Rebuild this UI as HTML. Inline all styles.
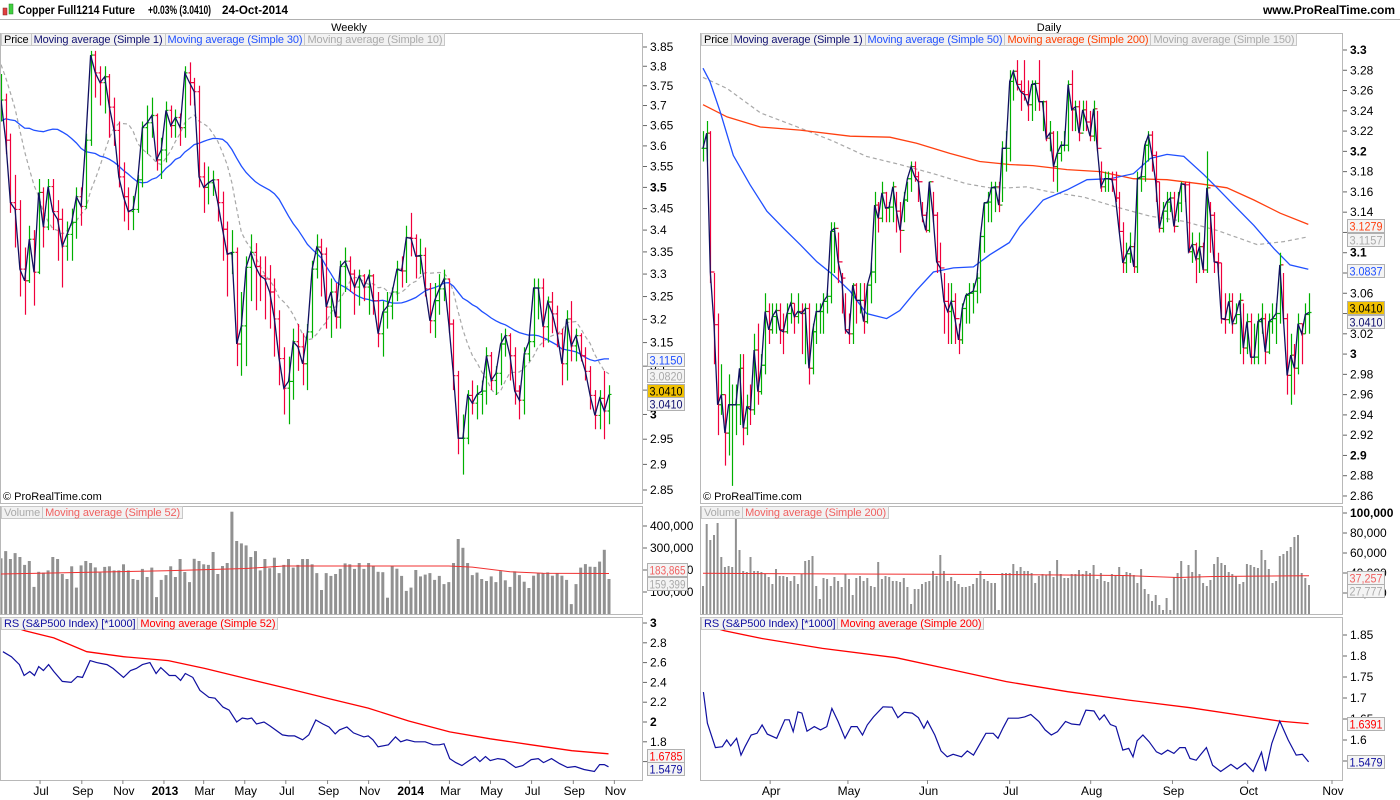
<!DOCTYPE html>
<html><head><meta charset="utf-8"><style>
html,body{margin:0;padding:0;background:#fff;}
#wrap{position:relative;width:1400px;height:800px;overflow:hidden;font-family:"Liberation Sans",Arial,sans-serif;}
svg{position:absolute;left:0;top:0;}
.leg{position:absolute;height:13px;font-size:11px;line-height:13px;white-space:nowrap;display:flex;letter-spacing:-0.1px;}
.leg span{background:#f2f2f2;border:1px solid #c8c8c8;padding:0 2px;margin-right:-1px;}
</style></head><body>
<div id="wrap">
<svg id="svg" width="1400" height="800" xmlns="http://www.w3.org/2000/svg"></svg>
<div class="leg" style="left:1px;top:33px"><span style="color:#000">Price</span><span style="color:#101070">Moving average (Simple 1)</span><span style="color:#2050ff">Moving average (Simple 30)</span><span style="color:#aaa">Moving average (Simple 10)</span></div>
<div class="leg" style="left:1px;top:506px"><span style="color:#aaa">Volume</span><span style="color:#f06060">Moving average (Simple 52)</span></div>
<div class="leg" style="left:1px;top:617px"><span style="color:#1010a0">RS (S&amp;P500 Index) [*1000]</span><span style="color:#f00">Moving average (Simple 52)</span></div>
<div class="leg" style="left:701px;top:33px"><span style="color:#000">Price</span><span style="color:#101070">Moving average (Simple 1)</span><span style="color:#2050ff">Moving average (Simple 50)</span><span style="color:#ff4000">Moving average (Simple 200)</span><span style="color:#aaa">Moving average (Simple 150)</span></div>
<div class="leg" style="left:701px;top:506px"><span style="color:#aaa">Volume</span><span style="color:#f06060">Moving average (Simple 200)</span></div>
<div class="leg" style="left:701px;top:617px"><span style="color:#1010a0">RS (S&amp;P500 Index) [*1000]</span><span style="color:#f00">Moving average (Simple 200)</span></div>
</div>
<script>
// ===== Weekly data =====
const wPrior=[3.25,3.45,3.55,3.5,3.6,3.55,3.4,3.45,3.55,3.45,3.4,3.35,3.45,3.55,3.6,3.7,3.8,3.85,3.85,3.9,3.85,3.95,3.85,3.85,3.85,3.8,3.8,3.7,3.75,3.78];
const wClose=[3.714,3.614,3.464,3.448,3.311,3.285,3.379,3.304,3.488,3.407,
3.502,3.443,3.425,3.363,3.390,3.418,3.478,3.455,3.614,3.829,
3.783,3.758,3.773,3.696,3.638,3.525,3.478,3.443,3.448,3.518,
3.645,3.657,3.675,3.566,3.590,3.688,3.650,3.670,3.645,3.783,
3.758,3.735,3.525,3.500,3.511,3.518,3.464,3.402,3.345,3.349,
3.147,3.186,3.315,3.349,3.317,3.296,3.289,3.260,3.201,3.116,
3.054,3.068,3.152,3.141,3.105,3.173,3.311,3.361,
3.345,3.227,3.260,3.205,3.317,3.329,3.300,3.271,3.296,3.271,
3.296,3.241,3.169,3.216,3.229,3.260,3.311,3.307,3.383,3.381,
3.340,3.342,3.267,3.197,3.241,3.267,3.289,3.190,3.080,2.952,
2.952,3.039,3.023,3.041,3.048,3.122,3.070,3.085,3.147,3.165,
3.122,3.048,3.029,3.126,3.152,3.269,3.269,3.184,3.238,3.212,
3.169,3.105,3.201,3.143,3.165,3.122,3.089,3.039,2.998,3.033,
3.007,3.041];
const wHigh=[3.78,3.73,3.63,3.53,3.47,3.36,3.41,3.40,3.52,3.50,
3.52,3.52,3.47,3.45,3.42,3.45,3.50,3.50,3.63,3.84,
3.84,3.80,3.80,3.78,3.72,3.66,3.56,3.50,3.48,3.53,
3.66,3.70,3.72,3.68,3.62,3.71,3.70,3.69,3.68,3.80,
3.81,3.77,3.75,3.56,3.55,3.54,3.52,3.49,3.42,3.40,
3.36,3.26,3.34,3.39,3.37,3.34,3.34,3.32,3.29,3.22,
3.14,3.12,3.18,3.19,3.17,3.19,3.33,3.39,
3.38,3.36,3.29,3.28,3.33,3.36,3.34,3.31,3.31,3.30,
3.31,3.30,3.26,3.24,3.26,3.27,3.33,3.34,3.41,3.44,
3.39,3.38,3.36,3.28,3.28,3.30,3.31,3.29,3.20,3.09,
3.00,3.05,3.07,3.06,3.07,3.14,3.13,3.10,3.17,3.18,
3.17,3.14,3.06,3.14,3.17,3.29,3.29,3.29,3.25,3.26,
3.23,3.18,3.22,3.24,3.18,3.17,3.14,3.10,3.05,3.05,
3.09,3.06];
const wLow=[3.66,3.58,3.44,3.36,3.25,3.21,3.28,3.23,3.30,3.36,
3.40,3.40,3.33,3.27,3.33,3.33,3.38,3.41,3.45,3.60,
3.72,3.70,3.68,3.62,3.60,3.50,3.42,3.40,3.40,3.44,
3.50,3.58,3.62,3.54,3.52,3.56,3.62,3.62,3.60,3.62,
3.70,3.70,3.50,3.44,3.46,3.48,3.42,3.33,3.25,3.30,
3.10,3.08,3.10,3.24,3.22,3.24,3.20,3.18,3.12,3.06,
3.00,2.98,3.03,3.09,3.06,3.05,3.16,3.29,
3.25,3.18,3.16,3.18,3.18,3.26,3.26,3.21,3.23,3.24,
3.21,3.21,3.14,3.12,3.18,3.20,3.24,3.27,3.28,3.34,
3.29,3.30,3.25,3.17,3.16,3.21,3.24,3.17,3.05,2.92,
2.88,2.94,3.00,2.99,3.00,3.02,3.05,3.04,3.06,3.12,
3.07,3.02,2.99,3.00,3.11,3.14,3.20,3.14,3.15,3.17,
3.14,3.06,3.07,3.11,3.11,3.11,3.07,3.01,2.97,2.97,
2.95,2.98];
const wVol=[253,286,250,277,259,223,241,123,192,188,
198,259,250,182,159,217,120,221,241,232,
212,188,214,217,198,198,226,198,159,155,
205,168,211,77,155,177,217,168,250,191,
145,251,241,226,223,282,182,218,232,465,
332,321,312,259,286,198,250,208,256,186,
223,250,211,223,250,250,226,186,109,186,
173,182,205,230,226,205,232,205,232,220,
192,190,74,218,206,173,105,120,200,171,179,
186,155,173,136,145,232,341,301,232,177,
188,159,150,171,145,195,153,123,194,177,
147,118,174,186,186,189,174,186,174,155,
45,136,211,227,215,214,238,292,159];
const wVolMaIdx=[0,35,52,60,95,100,108,115,129];
const wVolMaVal=[182,197,207,218,218,213,192,185,184];
const wRsIdx=[0.4,2.2,3.9,4.9,6.1,7.1,8.0,9.0,10.1,11.2,13.0,14.9,16.2,17.3,18.9,20.3,22.5,23.8,26.0,27.5,28.7,30.0,31.6,32.9,33.9,35.7,37.0,38.1,39.1,40.7,42.2,44.1,45.4,47.1,48.4,50.0,51.2,52.3,53.2,54.2,55.8,57.1,59.7,61.0,62.3,64.0,65.3,66.8,68.3,69.6,70.9,71.8,73.4,74.8,77.0,77.9,78.9,80.0,82.2,83.7,84.8,86.1,87.8,90.0,91.7,93.0,94.0,95.2,96.5,97.8,99.3,100.6,101.6,102.8,103.8,105.4,106.8,109.2,110.7,112.5,114.0,115.1,116.8,118.5,120.2,121.8,123.7,125.9,127.0,128.0,128.9];
const wRsVal=[2.71,2.66,2.58,2.47,2.51,2.47,2.56,2.52,2.58,2.51,2.41,2.40,2.46,2.45,2.62,2.60,2.58,2.54,2.45,2.52,2.54,2.58,2.60,2.49,2.55,2.47,2.47,2.42,2.49,2.45,2.32,2.25,2.24,2.15,2.12,2.00,2.04,2.03,2.04,1.98,2.00,1.96,1.87,1.86,1.86,1.82,1.87,2.02,1.98,1.95,1.88,1.92,1.95,1.89,1.85,1.86,1.82,1.75,1.77,1.85,1.80,1.82,1.80,1.80,1.77,1.77,1.78,1.63,1.59,1.56,1.61,1.65,1.60,1.65,1.61,1.63,1.62,1.54,1.56,1.62,1.63,1.59,1.63,1.58,1.54,1.55,1.52,1.50,1.57,1.57,1.5479];
const wRsMaIdx=[0,5.2,11.2,18.2,26.0,35.5,43.3,51.9,60.6,69.2,77.9,86.5,95.2,103.8,112.5,121.1,128.9];
const wRsMaVal=[3.0,2.92,2.85,2.71,2.66,2.62,2.54,2.44,2.34,2.24,2.14,2.01,1.90,1.83,1.77,1.71,1.6785];
const wPriceTicks=[2.85,2.9,2.95,3,3.05,3.1,3.15,3.2,3.25,3.3,3.35,3.4,3.45,3.5,3.55,3.6,3.65,3.7,3.75,3.8,3.85];
const wVolTicks=[100,200,300,400];
const wRsTicks=[1.6,1.8,2,2.2,2.4,2.6,2.8,3];
const wXLabels=['Jul','Sep','Nov','2013','Mar','May','Jul','Sep','Nov','2014','Mar','May','Jul','Sep','Nov'];
const wXDates=['2012-07-01','2012-09-01','2012-11-01','2013-01-01','2013-03-01','2013-05-01','2013-07-01','2013-09-01','2013-11-01','2014-01-01','2014-03-01','2014-05-01','2014-07-01','2014-09-01','2014-11-01'];

// ===== Daily data =====
const dClose=[3.203,3.218,3.081,3.029,2.950,2.960,2.922,2.950,2.950,2.950,
2.986,2.927,2.948,2.945,3.004,2.963,2.989,3.042,3.024,3.037,
3.043,3.024,3.022,3.040,3.050,3.037,3.042,3.040,3.045,2.986,
3.022,3.042,3.042,3.052,3.057,3.121,3.124,3.091,3.075,3.024,
3.020,3.068,3.053,3.053,3.032,3.068,3.081,3.147,3.134,3.159,
3.144,3.145,3.165,3.141,3.122,3.152,3.173,3.185,3.175,3.170,
3.137,3.122,3.170,3.137,3.091,3.085,3.052,3.042,3.052,3.035,
3.014,3.045,3.058,3.060,3.062,3.075,3.116,3.149,3.150,3.164,
3.165,3.147,3.203,3.203,3.269,
3.279,3.266,3.259,3.256,3.246,3.266,3.267,3.249,3.249,3.213,
3.218,3.185,3.198,3.206,3.206,3.266,3.241,3.244,3.218,3.241,
3.229,3.215,3.242,3.203,3.165,3.173,3.173,3.172,3.154,3.121,
3.090,3.099,3.106,3.086,3.173,3.175,3.206,3.216,3.196,3.170,
3.124,3.141,3.150,3.154,3.126,3.149,3.168,3.167,3.101,3.108,
3.094,3.106,3.083,3.164,3.137,3.091,3.090,3.035,3.034,3.052,
3.030,3.039,3.053,3.006,3.032,2.997,2.997,3.032,3.035,3.002,
3.032,3.035,3.040,3.088,3.035,2.979,2.999,2.986,3.030,3.020,
3.039,3.041];
const dHigh=[3.22,3.23,3.22,3.08,3.04,2.99,2.96,2.98,2.97,2.97,
3.00,3.00,2.96,2.97,3.02,3.03,3.00,3.06,3.05,3.05,
3.05,3.05,3.04,3.05,3.06,3.05,3.06,3.05,3.05,3.05,
3.03,3.05,3.05,3.06,3.06,3.13,3.13,3.12,3.08,3.06,
3.04,3.07,3.07,3.07,3.07,3.07,3.09,3.16,3.15,3.17,
3.16,3.15,3.17,3.16,3.15,3.16,3.17,3.19,3.19,3.18,
3.15,3.14,3.17,3.16,3.14,3.11,3.08,3.07,3.07,3.06,
3.03,3.05,3.06,3.07,3.07,3.08,3.12,3.15,3.16,3.17,
3.17,3.17,3.21,3.22,3.28,
3.28,3.29,3.27,3.29,3.27,3.27,3.27,3.29,3.25,3.25,
3.23,3.22,3.22,3.21,3.22,3.27,3.28,3.25,3.25,3.25,
3.25,3.24,3.25,3.24,3.19,3.18,3.18,3.18,3.18,3.16,
3.13,3.11,3.12,3.11,3.18,3.18,3.21,3.22,3.22,3.20,
3.17,3.15,3.16,3.16,3.16,3.16,3.17,3.17,3.17,3.12,
3.11,3.12,3.11,3.20,3.15,3.14,3.10,3.09,3.06,3.06,
3.06,3.05,3.06,3.05,3.04,3.04,3.03,3.04,3.05,3.04,
3.04,3.05,3.05,3.10,3.08,3.04,3.02,3.01,3.04,3.03,
3.05,3.06];
const dLow=[3.19,3.19,3.07,2.99,2.92,2.94,2.89,2.90,2.87,2.92,
2.93,2.91,2.92,2.93,2.94,2.95,2.96,2.98,3.01,3.02,
3.02,3.01,3.00,3.02,3.03,3.02,3.03,3.00,2.99,2.97,
2.98,3.01,3.02,3.02,3.04,3.05,3.08,3.07,3.04,3.02,
3.01,3.01,3.03,3.04,3.02,3.03,3.05,3.07,3.12,3.13,
3.13,3.13,3.13,3.12,3.10,3.13,3.15,3.16,3.17,3.15,
3.13,3.12,3.12,3.13,3.08,3.08,3.02,3.01,3.01,3.01,
3.00,3.01,3.03,3.03,3.04,3.05,3.06,3.10,3.13,3.13,
3.14,3.14,3.15,3.18,3.19,
3.25,3.26,3.24,3.25,3.23,3.23,3.24,3.24,3.22,3.21,
3.20,3.17,3.16,3.19,3.20,3.20,3.22,3.22,3.21,3.22,
3.22,3.21,3.21,3.20,3.16,3.16,3.16,3.16,3.15,3.12,
3.08,3.08,3.09,3.08,3.08,3.16,3.17,3.19,3.18,3.15,
3.12,3.12,3.13,3.14,3.12,3.13,3.14,3.15,3.10,3.09,
3.07,3.08,3.08,3.08,3.10,3.08,3.08,3.03,3.02,3.03,
3.02,3.03,3.00,2.99,3.00,2.99,2.99,2.99,3.02,2.99,
3.00,3.02,3.01,3.03,3.03,2.96,2.95,2.96,2.98,2.99,
3.02,3.02];
const dVol=[27,89,73,78,90,56,46,47,46,96,
63,42,41,56,42,42,41,39,36,29,
44,37,37,36,32,37,29,39,52,53,
57,27,14,35,34,27,36,32,26,39,
34,18,35,37,32,35,27,26,51,34,
37,36,32,32,31,35,26,9,24,24,
29,31,32,42,37,58,42,32,36,32,
29,26,26,27,29,35,42,34,32,30,
30,3,40,40,40,49,42,46,42,42,
40,30,37,39,38,42,36,53,39,35,
35,39,39,43,39,42,40,48,34,40,
32,31,39,38,46,38,41,40,38,30,
44,24,19,12,18,8,3,15,3,36,
40,52,34,48,41,63,39,30,27,33,
49,56,50,48,41,39,37,29,31,49,
48,46,45,63,53,44,30,32,57,59,
62,66,76,78,40,35,28];
const dVolMaIdx=[0,40,80,115,130,140,166];
const dVolMaVal=[39.7,39,38.5,37.5,35.5,36.5,37.3];
const dMa50Idx=[0,1.9,4.7,8.3,12.9,17.5,22.1,26.6,31.2,35.7,40.3,44.8,50.3,53.9,58.5,63.1,68.6,74.1,78.6,83.9,86.8,93.2,99.7,105.2,111.5,117.9,122.5,127.1,131.7,137.2,140.8,145.4,150.9,156.4,160.8,165.8];
const dMa50Val=[3.282,3.269,3.239,3.196,3.167,3.141,3.124,3.108,3.091,3.078,3.062,3.040,3.035,3.043,3.063,3.081,3.085,3.086,3.098,3.110,3.126,3.152,3.162,3.172,3.173,3.178,3.193,3.197,3.195,3.177,3.164,3.147,3.127,3.104,3.088,3.0837];
const dMa200Idx=[0,6.6,15.7,26.6,40.3,51.2,58.5,67.6,75.8,83.9,90.4,99.7,108.8,117.9,127.1,136.2,143.5,150.9,158.1,165.8];
const dMa200Val=[3.246,3.234,3.224,3.221,3.215,3.214,3.208,3.198,3.190,3.187,3.186,3.182,3.180,3.173,3.172,3.168,3.164,3.152,3.139,3.1279];
const dMa150Idx=[0,6.6,15.7,26.6,35.7,44.8,53.9,63.1,72.2,78.6,83.9,88.6,95.0,104.2,113.3,122.5,131.7,140.8,151.8,159.1,165.8];
const dMa150Val=[3.273,3.262,3.238,3.223,3.210,3.195,3.187,3.178,3.168,3.164,3.164,3.165,3.160,3.155,3.145,3.136,3.131,3.122,3.108,3.111,3.1157];
const dRsIdx=[0.1,1.2,3.4,5.3,6.5,7.6,9.2,10.4,11.5,13.2,14.8,16.2,17.6,20.2,22.4,23.6,24.7,26.0,27.1,28.5,30.5,32.2,33.9,35.3,37.0,38.9,40.6,42.2,43.7,45.0,46.7,49.3,51.8,53.4,55.1,57.3,59.0,60.5,61.5,63.5,65.2,66.9,68.5,70.8,72.4,74.1,77.5,79.5,80.8,82.2,83.6,86.4,88.1,89.8,92.0,93.7,95.4,97.1,99.3,101.0,103.2,104.9,107.1,108.6,109.9,111.6,113.1,115.0,116.6,117.8,118.9,120.5,122.2,124.2,125.6,127.3,129.0,130.6,132.1,133.4,135.1,136.2,137.9,139.6,141.8,144.6,146.3,148.5,150.7,153.0,154.1,155.8,158.0,160.3,162.5,164.2,165.9];
const dRsVal=[1.714,1.640,1.582,1.584,1.600,1.586,1.604,1.564,1.584,1.612,1.616,1.636,1.614,1.604,1.648,1.648,1.620,1.667,1.664,1.621,1.632,1.624,1.632,1.675,1.644,1.604,1.632,1.632,1.612,1.636,1.655,1.679,1.678,1.653,1.666,1.664,1.653,1.628,1.645,1.612,1.574,1.560,1.566,1.560,1.574,1.564,1.616,1.616,1.604,1.629,1.652,1.652,1.655,1.661,1.644,1.624,1.612,1.620,1.644,1.638,1.636,1.671,1.669,1.648,1.660,1.637,1.632,1.576,1.580,1.560,1.598,1.612,1.596,1.572,1.566,1.576,1.568,1.582,1.582,1.556,1.552,1.564,1.582,1.540,1.525,1.542,1.531,1.545,1.525,1.571,1.526,1.592,1.645,1.600,1.564,1.566,1.5479];
const dRsMaIdx=[0,5.9,16.0,32.7,52.9,66.3,83.1,99.9,116.6,133.4,150.2,158.0,165.9];
const dRsMaVal=[1.875,1.86,1.842,1.818,1.796,1.771,1.739,1.715,1.695,1.677,1.655,1.645,1.6391];
const dPriceTicks=[2.86,2.88,2.9,2.92,2.94,2.96,2.98,3,3.02,3.04,3.06,3.08,3.1,3.12,3.14,3.16,3.18,3.2,3.22,3.24,3.26,3.28,3.3];
const dVolTicks=[20,40,60,80,100];
const dRsTicks=[1.55,1.6,1.65,1.7,1.75,1.8,1.85];
const dXLabels=['Apr','May','Jun','Jul','Aug','Sep','Oct','Nov'];
const dXIdx=[18.4,39.7,61.5,84.0,106.2,128.6,149.2,172.3];

// ===== scales =====
const NW=wClose.length, ND=dClose.length;
const xW=i=>1+i*(608/(NW-1));
const xD=i=>703+i*(606/(ND-1));
const yWP=p=>47+1473*Math.log(3.85/p);
const yDP=p=>50+(3.30-p)*1013.6;
const yWV=v=>614-v*0.22;
const yDV=v=>613-v*1.0;
const yWR=v=>623+(3-v)*99;
const yDR=v=>635+(1.85-v)*420;
const lastDate=new Date('2014-10-24');
const wIdxOfDate=s=>(NW-1)-(lastDate-new Date(s))/(7*864e5);

const NS='http://www.w3.org/2000/svg';
const svg=document.getElementById('svg');
function el(tag,attrs,parent){const e=document.createElementNS(NS,tag);for(const k in attrs)e.setAttribute(k,attrs[k]);(parent||svg).appendChild(e);return e;}
function grp(parent){return el('g',{},parent);}
function pathFrom(xs,ys){return xs.map((x,i)=>(i?'L':'M')+x.toFixed(1)+' '+ys[i].toFixed(1)).join('');}
function sma(arr,n,prior){const all=(prior||[]).concat(arr);const off=(prior||[]).length;return arr.map((_,i)=>{const j=i+off;const s=Math.max(0,j-n+1);let t=0;for(let k=s;k<=j;k++)t+=all[k];return t/(j-s+1);});}
function clip(id,x,y,w,h){const d=svg.querySelector('defs')||el('defs',{});const c=el('clipPath',{id:id},d);el('rect',{x:x,y:y,width:w,height:h},c);}

// frame
const titleBar=el('rect',{x:0,y:0,width:1400,height:19,fill:'#fff'});


const tl=el('line',{x1:0,y1:19.5,x2:1400,y2:19.5,stroke:'#b0b0b0'});


const ic1=el('rect',{x:3,y:8,width:4,height:7,fill:'#e04040',stroke:'#802020','stroke-width':0.5});


const ic2=el('rect',{x:9,y:4,width:4,height:10,fill:'#40d040',stroke:'#208020','stroke-width':0.5});


const tt=el('text',{x:18,y:14,'font-size':12,'font-weight':'bold',fill:'#000',textLength:117,lengthAdjust:'spacingAndGlyphs'});
tt.textContent='Copper Full1214 Future';


const tc=el('text',{x:148,y:14,'font-size':12,'font-weight':'bold',fill:'#000',textLength:63,lengthAdjust:'spacingAndGlyphs'});
tc.textContent='+0.03% (3.0410)';


const td=el('text',{x:222,y:14,'font-size':12,'font-weight':'bold',fill:'#000',textLength:66,lengthAdjust:'spacingAndGlyphs'});
td.textContent='24-Oct-2014';


const site=el('text',{x:1395,y:14,'font-size':12,'font-weight':'bold','text-anchor':'end',fill:'#000'});
site.textContent='www.ProRealTime.com';



function panel(side){
  const L=side==='w'?0:700, R=side==='w'?642:1342;
  const g=grp();
  
  
  const hdr=el('text',{x:(L+R+56)/2,y:31,'font-size':11,'text-anchor':'middle',fill:'#000'},g);
  hdr.textContent=side==='w'?'Weekly':'Daily';
  
  
  [[33,503,'price-pane'],[506,614,'volume-pane'],[617,780,'rs-pane']].forEach(([t,b,n])=>{
    const r=el('rect',{x:L+0.5,y:t+0.5,width:R-L,height:b-t,fill:'none',stroke:'#b8b8b8'},g);
    
    
    clip(side+n,L+1,t+1,R-L-1,b-t-1);
  });
  const cp=el('text',{x:L+3,y:500,'font-size':11,fill:'#000'},g);
  cp.textContent='© ProRealTime.com';
  
  
  return {L,R,g};
}
const PW=panel('w'), PD=panel('d');

function axisTicks(R,ticks,yf,fmt,boldSet,name,top,bot){
  const g=grp();
  
  
  ticks.forEach(v=>{const y=yf(v);if(y<top||y>bot)return;
    el('line',{x1:R+1,y1:y,x2:R+5,y2:y,stroke:'#666'},g);
    const t=el('text',{x:R+8,y:y+4,'font-size':12,fill:'#000','font-weight':boldSet.includes(v)?'bold':'normal'},g);
    t.textContent=fmt(v);
    
    
  });
}
const fmtP=v=>String(+v.toFixed(2));
const fmtV=v=>(v*1000).toLocaleString('en-US');
axisTicks(642,wPriceTicks,yWP,fmtP,[3,3.5],'weekly-price-axis',40,500);
axisTicks(642,wVolTicks,yWV,fmtV,[],'weekly-volume-axis',515,612);
axisTicks(642,wRsTicks,yWR,fmtP,[3,2],'weekly-rs-axis',620,778);
axisTicks(1342,dPriceTicks,yDP,fmtP,[3.3,3.2,3.1,3,2.9],'daily-price-axis',40,500);
axisTicks(1342,dVolTicks,yDV,fmtV,[100],'daily-volume-axis',510,612);
axisTicks(1342,dRsTicks,yDR,fmtP,[],'daily-rs-axis',620,778);

function xAxis(labels,xs,name,boldSet){
  const g=grp();
  
  
  labels.forEach((lb,i)=>{const x=xs[i];
    el('line',{x1:x,y1:780,x2:x,y2:784,stroke:'#888'},g);
    const t=el('text',{x:x+1,y:795,'font-size':12,'text-anchor':'middle',fill:'#000','font-weight':boldSet.includes(lb)?'bold':'normal'},g);
    t.textContent=lb;
    
    
  });
}
xAxis(wXLabels,wXDates.map(d=>xW(wIdxOfDate(d))),'weekly-x-axis',['2013','2014']);
xAxis(dXLabels,dXIdx.map(xD),'daily-x-axis',[]);

function ohlc(close,high,low,xf,yf,clipId,name){
  const g=el('g',{'clip-path':'url(#'+clipId+')'});
  
  
  close.forEach((c,i)=>{const o=i?close[i-1]:c;const col=c>=o?'#00b000':'#f0003c';const x=Math.round(xf(i))+0.5;
    const b=el('path',{d:`M${x} ${yf(high[i])}L${x} ${yf(low[i])}M${x-2} ${yf(o)}L${x} ${yf(o)}M${x} ${yf(c)}L${x+2} ${yf(c)}`,stroke:col,'stroke-width':1.2,fill:'none'},g);
    
    
  });
  return g;
}
function line(xs,ys,clipId,attrs,name){
  const p=el('path',Object.assign({d:pathFrom(xs,ys),fill:'none','clip-path':'url(#'+clipId+')'},attrs));
  
  
}
const wi=wClose.map((_,i)=>i);
line(wi.map(xW),sma(wClose,10,wPrior).map(yWP),'wprice-pane',{stroke:'#a8a8a8','stroke-width':1.2,'stroke-dasharray':'4 3'},'weekly-sma10');
line(wi.map(xW),sma(wClose,30,wPrior).map(yWP),'wprice-pane',{stroke:'#2050ff','stroke-width':1.3},'weekly-sma30');
ohlc(wClose,wHigh,wLow,xW,yWP,'wprice-pane','weekly-bars');
line(wi.map(xW),wClose.map(yWP),'wprice-pane',{stroke:'#101060','stroke-width':1.3},'weekly-close-line');
const di=dClose.map((_,i)=>i);
line(dMa150Idx.map(xD),dMa150Val.map(yDP),'dprice-pane',{stroke:'#a8a8a8','stroke-width':1.2,'stroke-dasharray':'4 3'},'daily-sma150');
line(dMa200Idx.map(xD),dMa200Val.map(yDP),'dprice-pane',{stroke:'#ff4010','stroke-width':1.3},'daily-sma200');
line(dMa50Idx.map(xD),dMa50Val.map(yDP),'dprice-pane',{stroke:'#2050ff','stroke-width':1.3},'daily-sma50');
ohlc(dClose,dHigh,dLow,xD,yDP,'dprice-pane','daily-bars');
line(di.map(xD),dClose.map(yDP),'dprice-pane',{stroke:'#101060','stroke-width':1.3},'daily-close-line');

function vbars(vol,xf,yf,base,w,clipId,name){
  const g=el('g',{'clip-path':'url(#'+clipId+')'});
  
  
  vol.forEach((v,i)=>{const x=xf(i);const y=yf(v);
    const r=el('rect',{x:(x-w/2).toFixed(1),y:y.toFixed(1),width:w,height:Math.max(0,base-y).toFixed(1),fill:'#919191'},g);
    
    
  });
}
vbars(wVol,xW,yWV,614,3,'wvolume-pane','weekly-volume-bars');
line(wVolMaIdx.map(xW),wVolMaVal.map(yWV),'wvolume-pane',{stroke:'#f03030','stroke-width':1},'weekly-volume-sma52');
vbars(dVol,xD,yDV,614,2,'dvolume-pane','daily-volume-bars');
line(dVolMaIdx.map(xD),dVolMaVal.map(yDV),'dvolume-pane',{stroke:'#f03030','stroke-width':1},'daily-volume-sma200');
line(wRsMaIdx.map(xW),wRsMaVal.map(yWR),'wrs-pane',{stroke:'#ff0000','stroke-width':1.3},'weekly-rs-sma52');
line(wRsIdx.map(xW),wRsVal.map(yWR),'wrs-pane',{stroke:'#1010a0','stroke-width':1.2},'weekly-rs-line');
line(dRsMaIdx.map(xD),dRsMaVal.map(yDR),'drs-pane',{stroke:'#ff0000','stroke-width':1.3},'daily-rs-sma200');
line(dRsIdx.map(xD),dRsVal.map(yDR),'drs-pane',{stroke:'#1010a0','stroke-width':1.2},'daily-rs-line');

function vbox(x,yc,txt,col,bg,name){
  const g=grp();
  
  
  const w=txt.length>6?40:37;
  el('rect',{x:x+0.5,y:yc-6.5,width:w,height:13,fill:bg,stroke:'#b0b0b0'},g);
  const t=el('text',{x:x+2.5,y:yc+4.5,'font-size':12,fill:col,textLength:w-4,lengthAdjust:'spacingAndGlyphs'},g);
  t.textContent=txt;
}
vbox(647,360,'3.1150','#2050ff','#f4f4f4','weekly-sma30-value');
vbox(647,376,'3.0820','#aaa','#f4f4f4','weekly-sma10-value');
vbox(647,391,'3.0410','#000','#f0c000','weekly-last-price');
vbox(647,404,'3.0410','#101070','#f4f4f4','weekly-close-value');
vbox(647,570,'183,865','#f06060','#f4f4f4','weekly-volma-value');
vbox(647,584,'159,399','#aaa','#f4f4f4','weekly-volume-value');
vbox(647,756,'1.6785','#f00','#f4f4f4','weekly-rsma-value');
vbox(647,769,'1.5479','#1010a0','#f4f4f4','weekly-rs-value');
vbox(1347,226,'3.1279','#ff4010','#f4f4f4','daily-sma200-value');
vbox(1347,240,'3.1157','#aaa','#f4f4f4','daily-sma150-value');
vbox(1347,271,'3.0837','#2050ff','#f4f4f4','daily-sma50-value');
vbox(1347,308,'3.0410','#000','#f0c000','daily-last-price');
vbox(1347,322,'3.0410','#101070','#f4f4f4','daily-close-value');
vbox(1347,578,'37,257','#f06060','#f4f4f4','daily-volma-value');
vbox(1347,591,'27,777','#aaa','#f4f4f4','daily-volume-value');
vbox(1347,724,'1.6391','#f00','#f4f4f4','daily-rsma-value');
vbox(1347,762,'1.5479','#1010a0','#f4f4f4','daily-rs-value');
</script>
</body></html>
